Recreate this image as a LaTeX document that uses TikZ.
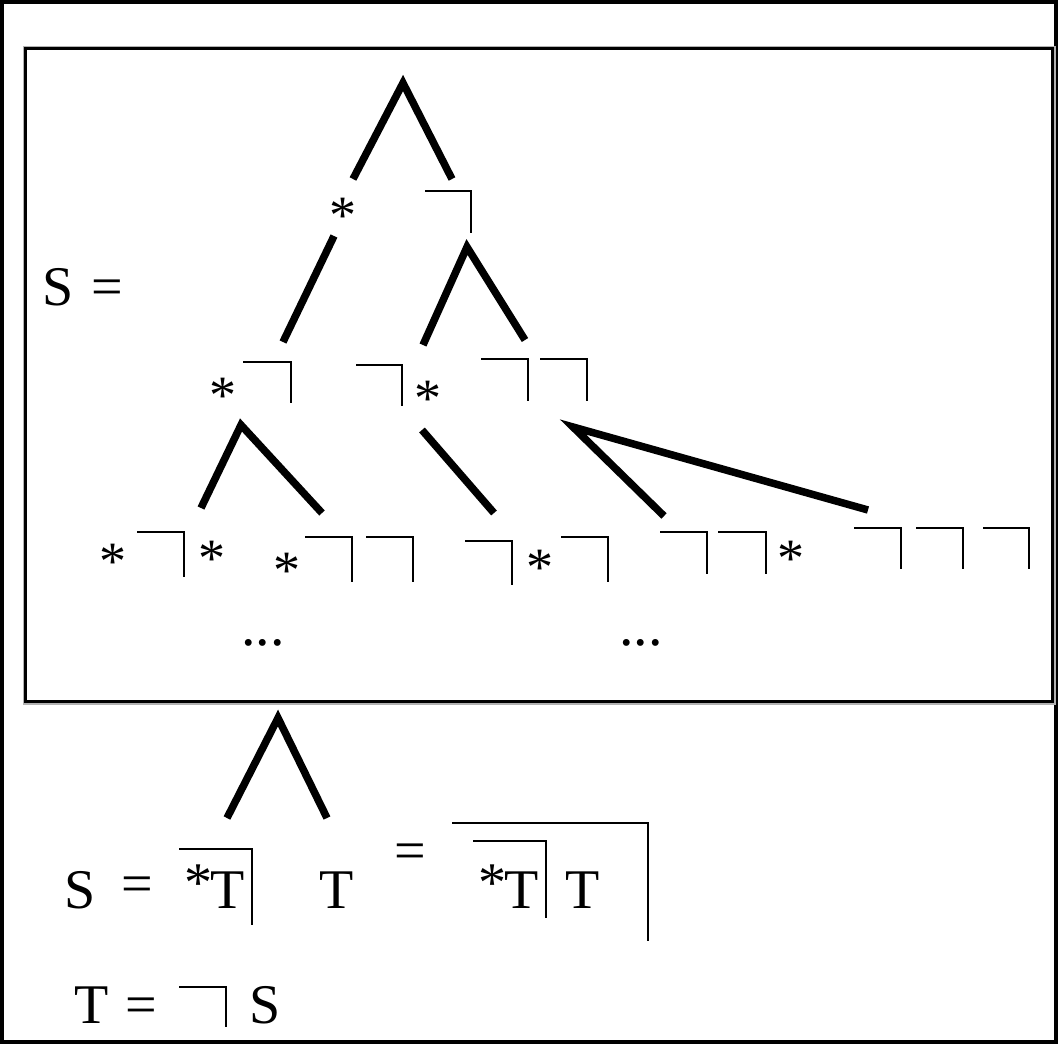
\documentclass[tikz,border=0pt]{standalone}
\usepackage{fontspec}
\setmainfont{Liberation Serif}
\begin{document}
\begin{tikzpicture}[x=1pt,y=-1pt,
  branch/.style={line width=7.5pt},
  negsym/.style={line width=2.8pt},
  letter/.style={inner sep=0pt,anchor=base,font=\fontsize{56}{56}\selectfont},
  star/.style={inner sep=0pt,anchor=north,font=\fontsize{54}{54}\selectfont},
  dots/.style={inner sep=0pt,anchor=base,font=\fontsize{58}{58}\selectfont},
  frame/.style={line width=4.5pt}]
\useasboundingbox (0,0) rectangle (1058,1044);
% outer frame
\draw[frame] (2.2,2.2) rectangle (1055.8,1041.8);
% inner box
\draw[line width=3pt,gray!60] (24,47) rectangle (1054,703);
\draw[line width=2.5pt] (25.5,48.5) rectangle (1052.5,701.5);

% ---------- top tree ----------
\node[letter] (S1) at (58,305) {S};
\node[letter] (eq1) at (107,305) {=};

\coordinate (a0) at (403,83);
\coordinate (a0l) at (353,179);
\coordinate (a0r) at (452,179);
\draw[branch] (a0l) -- (a0) -- (a0r);

\node[star] (st1) at (343,198) {*};
\draw[negsym] (425,191) -| (471,233);

\coordinate (b0) at (334,236);
\coordinate (b0e) at (283,342);
\draw[branch] (b0) -- (b0e);
\coordinate (c0) at (467,247);
\coordinate (c0l) at (423,345);
\coordinate (c0r) at (525,340);
\draw[branch] (c0l) -- (c0) -- (c0r);

% level 2
\node[star] (st2) at (223,378) {*};
\draw[negsym] (243,362) -| (291,403);
\draw[negsym] (356,365) -| (402,406);
\node[star] (st3) at (428,381) {*};
\draw[negsym] (481,359) -| (528,401);
\draw[negsym] (540,359) -| (587,401);

\coordinate (d0) at (241,425);
\coordinate (d0l) at (201,508);
\coordinate (d0r) at (322,513);
\draw[branch] (d0l) -- (d0) -- (d0r);
\coordinate (e0) at (422,430);
\coordinate (e0e) at (494,513);
\draw[branch] (e0) -- (e0e);
\coordinate (f0) at (573,427);
\coordinate (f0l) at (664,516);
\coordinate (f0r) at (868,510);
\draw[branch] (f0l) -- (f0) -- (f0r);

% level 3
\node[star] (st4) at (113,544) {*};
\draw[negsym] (137,532) -| (184,577);
\node[star] (st5) at (212,541) {*};
\node[star] (st6) at (287,553) {*};
\draw[negsym] (305,537) -| (352,582);
\draw[negsym] (366,537) -| (413,582);
\draw[negsym] (465,541) -| (512,585);
\node[star] (st7) at (540,550) {*};
\draw[negsym] (561,537) -| (608,582);
\draw[negsym] (660,532) -| (707,574);
\draw[negsym] (718,532) -| (766,574);
\node[star] (st8) at (791,541) {*};
\draw[negsym] (854,528) -| (901,569);
\draw[negsym] (916,528) -| (963,569);
\draw[negsym] (983,528) -| (1029,569);

\node[dots] (dt1) at (263,645) {...};
\node[dots] (dt2) at (641,645) {...};

% ---------- lower part ----------
\coordinate (g0) at (278,718);
\coordinate (g0l) at (227,818);
\coordinate (g0r) at (327,818);
\draw[branch] (g0l) -- (g0) -- (g0r);

\node[letter] (S2) at (80,908) {S};
\node[letter] (eq2) at (137,902) {=};
\draw[negsym] (179,849) -| (252,925);
\node[letter,anchor=base west] (sT1) at (184,908) {\raisebox{7pt}{*}\kern-2pt T};
\node[letter] (T1) at (337,908) {T};
\node[letter] (eq3) at (410,869) {=};
\draw[negsym] (452,823) -| (648,941);
\draw[negsym] (473,841) -| (546,918);
\node[letter,anchor=base west] (sT2) at (478,908) {\raisebox{7pt}{*}\kern-2pt T};
\node[letter] (T2) at (583,908) {T};

\node[letter] (T3) at (92,1023) {T};
\node[letter] (eq4) at (141,1023) {=};
\draw[negsym] (179,987) -| (226,1027);
\node[letter] (S3) at (265,1023) {S};
\end{tikzpicture}
\end{document}
